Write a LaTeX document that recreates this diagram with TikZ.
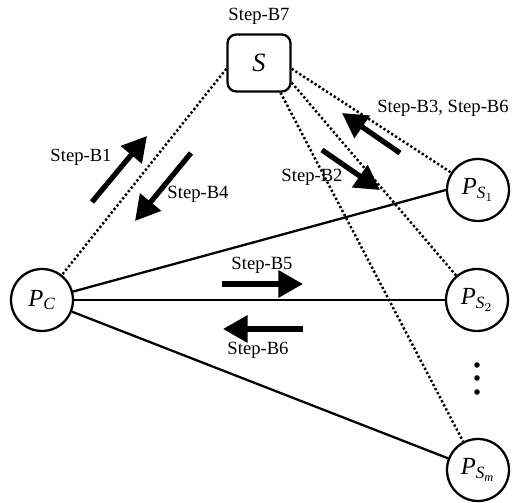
\documentclass[tikz,border=0pt]{standalone}
\usepackage{amsmath}
\usepackage{fontspec}
\setmainfont{Liberation Serif}
\usetikzlibrary{arrows.meta}

\begin{document}
\begin{tikzpicture}[x=0.02cm, y=-0.02cm,
    party/.style={circle, draw, line width=1.3pt, minimum size=1.24cm, inner sep=0pt, font=\fontsize{14}{16}\selectfont},
    server/.style={draw, rounded corners=5pt, line width=1.3pt, minimum width=1.26cm, minimum height=1.14cm, font=\fontsize{15}{17}\selectfont},
    link/.style={line width=1.3pt},
    channel/.style={line width=1.4pt, dash pattern=on 1.3pt off 1.3pt},
    flow/.style={line width=3pt, -{Triangle[length=14pt,width=15pt]}},
    steplabel/.style={font=\fontsize{10.6}{12}\selectfont}]
  \useasboundingbox (0,0) rectangle (515,503);

  \node[server] (S) at (259,63) {\textit{S}};
  \node[party] (PC) at (42,300) {$\textit{P}_{\textit{C}}$};
  \node[party] (PS1) at (478,190) {$\textit{P}_{\textit{S}_1}$};
  \node[party] (PS2) at (477,300) {$\textit{P}_{\textit{S}_2}$};
  \node[party] (PSm) at (478,470) {$\textit{P}_{\textit{S}_\textit{m}}$};
  \foreach \y in {365,378,392}
    \fill (477,\y) circle (2.8);

  \draw[link] (PC) -- (PS1.west);
  \draw[link] (PC) -- (PS2);
  \draw[link] (PC) -- (PSm);

  \draw[channel] (S.190) -- (PC);
  \draw[channel] (S.-10) -- (PS1);
  \draw[channel] (S.-31) -- (PS2);
  \draw[channel] (S.-54) -- (PSm);

  \draw[flow] (92,202) -- (147,136);
  \draw[flow] (191,153) -- (135,221);
  \draw[flow] (322,150) -- (380,190);
  \draw[flow] (400,153) -- (342,113);
  \draw[flow] (222,284) -- (303,284);
  \draw[flow] (303,329) -- (223,329);

  \node[steplabel] (b7) at (259,16) {Step-B7};
  \node[steplabel] (b1) at (81,157) {Step-B1};
  \node[steplabel] (b4) at (198,194) {Step-B4};
  \node[steplabel] (b2) at (312,177) {Step-B2};
  \node[steplabel] (b36) at (443,108) {Step-B3, Step-B6};
  \node[steplabel] (b5) at (262,265) {Step-B5};
  \node[steplabel] (b6) at (258,350) {Step-B6};
\end{tikzpicture}
\end{document}
